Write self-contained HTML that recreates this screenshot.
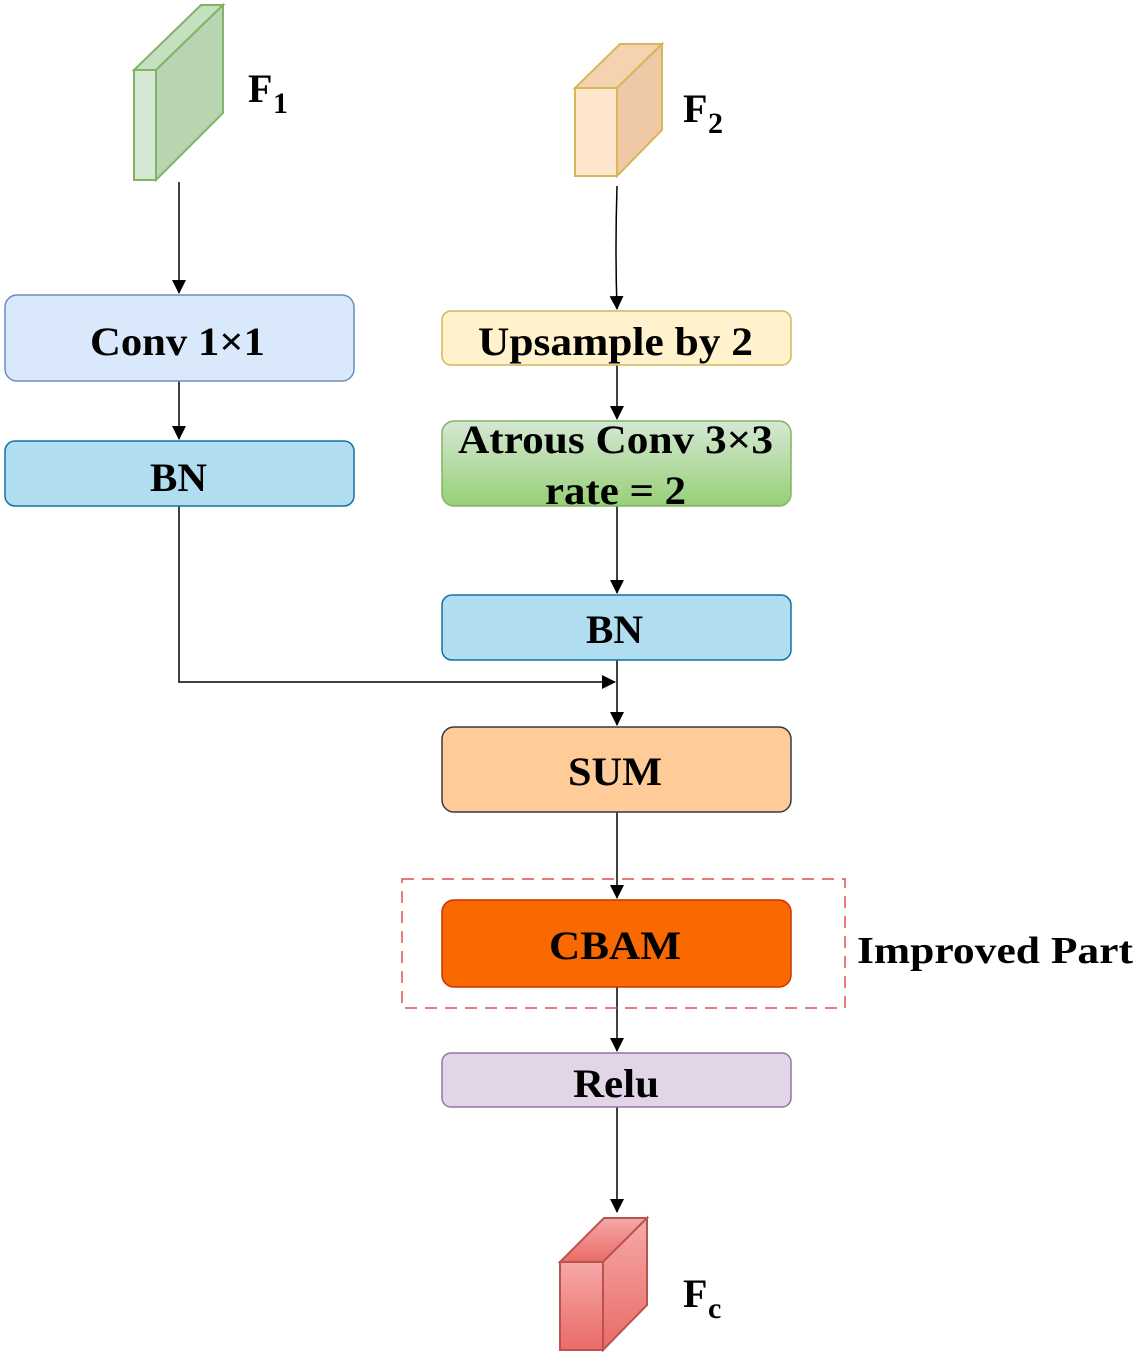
<!DOCTYPE html>
<html><head><style>body{margin:0;background:#fff}</style></head><body>
<svg width="1140" height="1356" viewBox="0 0 1140 1356" xmlns="http://www.w3.org/2000/svg" font-family="Liberation Serif, serif" font-weight="bold">
<defs>
<marker id="a" markerWidth="14" markerHeight="16" refX="13" refY="7" orient="auto" markerUnits="userSpaceOnUse"><path d="M0,0 L14,7 L0,14 Z" fill="#000"/></marker>
<linearGradient id="g" x1="0" y1="0" x2="0" y2="1"><stop offset="0" stop-color="#d5e8d4"/><stop offset="1" stop-color="#97d077"/></linearGradient>
<linearGradient id="r" x1="0" y1="0" x2="0" y2="1"><stop offset="0" stop-color="#f5a9a9"/><stop offset="1" stop-color="#ea6b66"/></linearGradient>
</defs>
<!-- F1 -->
<polygon points="134,70 156,70 223,5 201,5" fill="#c5e0c0" stroke="#82b366" stroke-width="2"/>
<polygon points="156,70 223,5 223,113 156,180" fill="#b9d4b2" stroke="#82b366" stroke-width="2"/>
<rect x="134" y="70" width="22" height="110" fill="#d5e8d4" stroke="#82b366" stroke-width="2"/>
<text x="248" y="102" font-size="40">F</text><text x="273" y="113" font-size="30">1</text>
<!-- F2 -->
<polygon points="575,88 617,88 662,44 620,44" fill="#f5d3b0" stroke="#d6b656" stroke-width="2"/>
<polygon points="617,88 662,44 662,130 617,176" fill="#efc9a6" stroke="#d6b656" stroke-width="2"/>
<rect x="575" y="88" width="42" height="88" fill="#fde6cc" stroke="#d6b656" stroke-width="2"/>
<text x="683" y="122" font-size="40">F</text><text x="708" y="133" font-size="30">2</text>
<!-- Fc -->
<polygon points="560,1262 603,1262 647,1218 604,1218" fill="url(#r)" stroke="#b85450" stroke-width="2"/>
<polygon points="603,1262 647,1218 647,1305 603,1350" fill="url(#r)" stroke="#b85450" stroke-width="2"/>
<rect x="560" y="1262" width="43" height="88" fill="url(#r)" stroke="#b85450" stroke-width="2"/>
<text x="683" y="1307" font-size="40">F</text><text x="708" y="1318" font-size="30">c</text>
<!-- arrows -->
<g stroke="#000" stroke-width="1.5" fill="none">
<line x1="179" y1="182" x2="179" y2="293" marker-end="url(#a)"/>
<line x1="179" y1="381" x2="179" y2="439" marker-end="url(#a)"/>
<polyline points="179,506 179,682 615,682" marker-end="url(#a)"/>
<path d="M617,186 Q615,250 617,309" marker-end="url(#a)"/>
<line x1="617" y1="365" x2="617" y2="419" marker-end="url(#a)"/>
<line x1="617" y1="506" x2="617" y2="593" marker-end="url(#a)"/>
<line x1="617" y1="660" x2="617" y2="725" marker-end="url(#a)"/>
<line x1="617" y1="812" x2="617" y2="898" marker-end="url(#a)"/>
<line x1="617" y1="987" x2="617" y2="1051" marker-end="url(#a)"/>
<line x1="617" y1="1107" x2="617" y2="1212" marker-end="url(#a)"/>
</g>
<!-- boxes -->
<g font-size="40" lengthAdjust="spacingAndGlyphs">
<rect x="5" y="295" width="349" height="86" rx="12" fill="#dae8fc" stroke="#6c8ebf" stroke-width="1.5"/>
<text x="90" y="355" textLength="175" lengthAdjust="spacingAndGlyphs">Conv 1×1</text>
<rect x="5" y="441" width="349" height="65" rx="10" fill="#b1ddf0" stroke="#10739e" stroke-width="1.5"/>
<text x="150" y="491" textLength="57" lengthAdjust="spacingAndGlyphs">BN</text>
<rect x="442" y="311" width="349" height="54" rx="9" fill="#fff2cc" stroke="#d6b656" stroke-width="1.5"/>
<text x="478" y="355" textLength="275" lengthAdjust="spacingAndGlyphs">Upsample by 2</text>
<rect x="442" y="421" width="349" height="85" rx="12" fill="url(#g)" stroke="#82b366" stroke-width="1.5"/>
<text x="458" y="453" textLength="315" lengthAdjust="spacingAndGlyphs">Atrous Conv 3×3</text>
<text x="545" y="504" textLength="141" lengthAdjust="spacingAndGlyphs">rate = 2</text>
<rect x="442" y="595" width="349" height="65" rx="10" fill="#b1ddf0" stroke="#10739e" stroke-width="1.5"/>
<text x="586" y="643" textLength="57" lengthAdjust="spacingAndGlyphs">BN</text>
<rect x="442" y="727" width="349" height="85" rx="12" fill="#ffcc99" stroke="#36393d" stroke-width="1.5"/>
<text x="568" y="785" textLength="94" lengthAdjust="spacingAndGlyphs">SUM</text>
<rect x="402" y="879" width="443" height="129" fill="none" stroke="#e05050" stroke-width="1.5" stroke-dasharray="12,8"/>
<rect x="442" y="900" width="349" height="87" rx="12" fill="#fa6800" stroke="#c73500" stroke-width="1.5"/>
<text x="549" y="959" textLength="132" lengthAdjust="spacingAndGlyphs">CBAM</text>
<text x="857" y="963" font-size="38" textLength="276" lengthAdjust="spacingAndGlyphs">Improved Part</text>
<rect x="442" y="1053" width="349" height="54" rx="9" fill="#e1d5e7" stroke="#9673a6" stroke-width="1.5"/>
<text x="573" y="1097" textLength="86" lengthAdjust="spacingAndGlyphs">Relu</text>
</g>
</svg>
</body></html>
